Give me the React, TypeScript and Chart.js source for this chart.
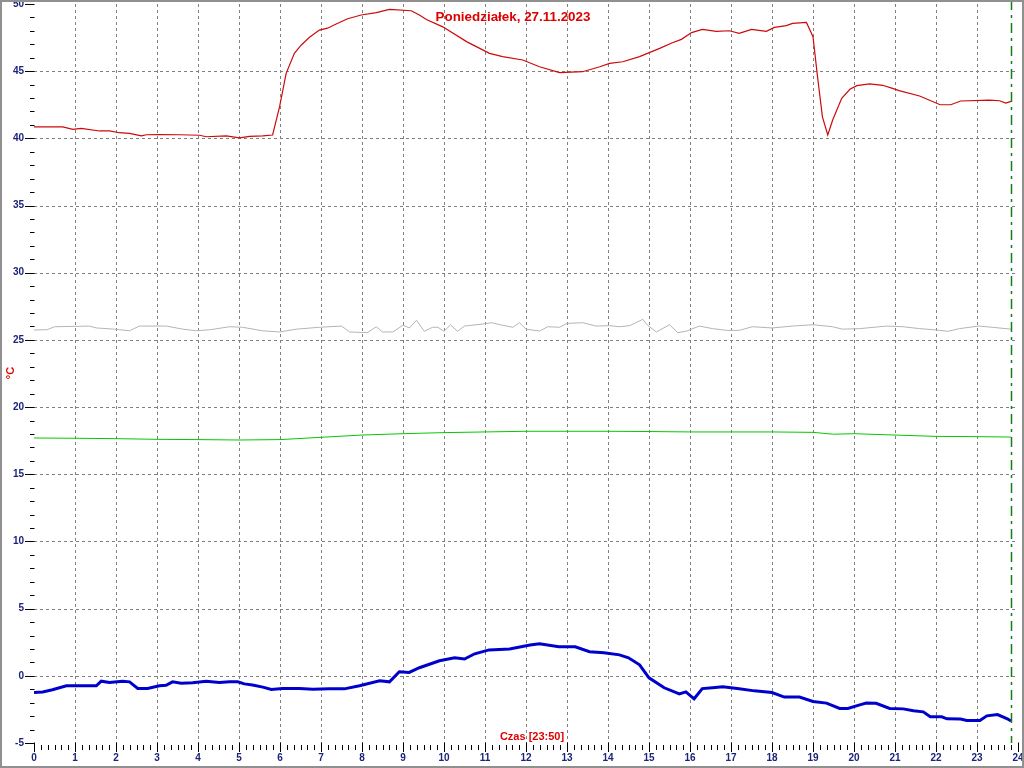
import React, { useEffect, useRef } from "react";
import { Chart, registerables } from "chart.js";

Chart.register(...registerables);

// ---- data (hours of day, °C) ----
const redHours = [0, 0.7, 0.95, 1.15, 1.6, 1.84, 2.08, 2.33, 2.62, 2.74, 3.06, 3.55, 4.04, 4.2, 4.69, 5.01, 5.26, 5.58, 5.82, 5.99, 6.15, 6.35, 6.52, 6.72, 6.96, 7.16, 7.37, 7.65, 7.98, 8.35, 8.67, 9.2, 9.4, 9.57, 9.97, 10.55, 11.11, 11.43, 11.92, 12.33, 12.82, 13.38, 13.8, 14.04, 14.36, 14.77, 15.26, 15.57, 15.79, 16.04, 16.3, 16.64, 16.96, 17.2, 17.5, 17.86, 18.06, 18.35, 18.5, 18.84, 19.0, 19.11, 19.23, 19.36, 19.48, 19.7, 19.9, 20.07, 20.38, 20.7, 20.94, 21.1, 21.6, 22.1, 22.36, 22.6, 23.3, 23.55, 23.7, 23.83];
const redTemps = [40.85, 40.85, 40.67, 40.75, 40.55, 40.55, 40.42, 40.37, 40.18, 40.27, 40.28, 40.27, 40.23, 40.12, 40.18, 40.03, 40.15, 40.18, 40.25, 42.36, 44.84, 46.33, 46.95, 47.52, 48.06, 48.2, 48.51, 48.9, 49.18, 49.36, 49.6, 49.5, 49.18, 48.85, 48.3, 47.2, 46.33, 46.08, 45.83, 45.33, 44.89, 44.96, 45.33, 45.58, 45.7, 46.08, 46.7, 47.12, 47.37, 47.87, 48.11, 47.96, 48.01, 47.82, 48.11, 47.96, 48.26, 48.39, 48.56, 48.63, 47.57, 44.59, 41.6, 40.25, 41.37, 42.98, 43.65, 43.92, 44.05, 43.95, 43.72, 43.55, 43.15, 42.5, 42.5, 42.78, 42.85, 42.8, 42.63, 42.75];

const grayHours = [0, 0.32, 0.5, 1.35, 1.52, 1.96, 2.33, 2.57, 3.23, 3.63, 3.96, 4.3, 4.77, 5.09, 5.57, 5.99, 6.4, 6.96, 7.5, 7.7, 8.13, 8.35, 8.5, 8.75, 9.0, 9.16, 9.33, 9.52, 9.72, 9.85, 10.0, 10.16, 10.33, 10.5, 10.94, 11.16, 11.43, 11.68, 11.84, 12.0, 12.33, 12.53, 12.82, 13.0, 13.38, 13.71, 14.04, 14.28, 14.53, 14.85, 14.96, 15.18, 15.5, 15.7, 15.9, 16.23, 16.55, 16.9, 17.2, 17.52, 18.0, 18.5, 19.0, 19.48, 19.72, 20.14, 20.8, 21.2, 21.6, 22.0, 22.3, 22.57, 23.05, 23.37, 23.83];
const grayTemps = [25.74, 25.76, 25.98, 26.03, 25.89, 25.8, 25.68, 26.03, 26.03, 25.8, 25.68, 25.76, 25.98, 25.94, 25.68, 25.59, 25.8, 25.94, 26.03, 25.59, 25.54, 25.98, 25.59, 25.59, 26.09, 25.89, 26.46, 25.64, 25.94, 25.94, 25.64, 26.12, 25.64, 26.03, 26.18, 26.28, 26.09, 25.94, 26.28, 25.8, 25.66, 25.98, 25.94, 26.23, 26.28, 26.03, 26.06, 25.98, 26.06, 26.53, 26.1, 25.59, 26.13, 25.54, 25.64, 26.03, 25.84, 25.71, 25.71, 25.98, 25.89, 26.03, 26.13, 25.98, 25.8, 25.84, 26.03, 25.98, 25.84, 25.74, 25.64, 25.84, 26.03, 25.94, 25.8];

const greenHours = [0, 1, 2, 3, 4, 5, 6, 7, 8, 9, 10, 11, 12, 13, 14, 15, 16, 17, 18, 19, 19.5, 20, 21, 22, 23, 23.83];
const greenTemps = [17.7, 17.68, 17.65, 17.6, 17.58, 17.55, 17.58, 17.75, 17.92, 18.02, 18.1, 18.15, 18.2, 18.2, 18.2, 18.18, 18.15, 18.15, 18.15, 18.12, 17.98, 18.02, 17.92, 17.82, 17.8, 17.77];

const blueHours = [0, 0.21, 0.45, 0.79, 1.52, 1.64, 1.84, 2.16, 2.33, 2.53, 2.77, 3.06, 3.22, 3.38, 3.59, 3.87, 4.2, 4.52, 4.77, 4.97, 5.13, 5.33, 5.58, 5.79, 6.06, 6.48, 6.8, 7.2, 7.57, 7.94, 8.43, 8.67, 8.91, 9.15, 9.4, 9.89, 10.26, 10.5, 10.75, 11.1, 11.6, 12.1, 12.33, 12.8, 13.2, 13.55, 13.9, 14.28, 14.5, 14.77, 15.0, 15.37, 15.74, 15.9, 16.1, 16.3, 16.55, 16.8, 17.2, 17.57, 18.0, 18.3, 18.67, 19.0, 19.33, 19.65, 19.85, 20.14, 20.3, 20.54, 20.87, 21.2, 21.45, 21.69, 21.86, 22.14, 22.27, 22.6, 22.75, 23.07, 23.24, 23.5, 23.74, 23.83];
const blueTemps = [-1.24, -1.2, -1.04, -0.74, -0.74, -0.4, -0.5, -0.4, -0.45, -0.94, -0.94, -0.74, -0.7, -0.45, -0.55, -0.52, -0.4, -0.5, -0.45, -0.45, -0.6, -0.68, -0.84, -1.02, -0.94, -0.94, -1.0, -0.97, -0.97, -0.74, -0.37, -0.45, 0.3, 0.25, 0.6, 1.12, 1.35, 1.25, 1.64, 1.93, 2.0, 2.3, 2.38, 2.16, 2.16, 1.79, 1.72, 1.56, 1.34, 0.82, -0.15, -0.89, -1.34, -1.19, -1.71, -0.95, -0.89, -0.82, -0.97, -1.12, -1.24, -1.58, -1.58, -1.91, -2.03, -2.43, -2.43, -2.16, -2.03, -2.05, -2.43, -2.46, -2.6, -2.68, -3.05, -3.05, -3.2, -3.22, -3.32, -3.32, -2.98, -2.88, -3.2, -3.37];

const yMin = -5;
const yMax = 50;
const yStep = 5;
const xMin = 0;
const xMax = 24;
const nowHour = 23 + 50 / 60;
const titleText = "Poniedziałek, 27.11.2023";
const xAxisText = "Czas [23:50]";
const yAxisText = "°C";

const FONT = '"Liberation Sans", Arial, sans-serif';
const TICK_COLOR = "#1b237a";
const LABEL_RED = "#e00000";

function toPoints(xs: number[], ys: number[]) {
  return xs.map((x, i) => ({ x, y: ys[i] }));
}

const decorPlugin = {
  id: "decor",
  beforeDatasetsDraw(chart: any) {
    const { ctx, chartArea } = chart;
    const xs = chart.scales.x;
    const ys = chart.scales.y;
    ctx.save();
    ctx.strokeStyle = "#808080";
    ctx.lineWidth = 1;
    ctx.setLineDash([3, 3]);
    for (let h = xMin + 1; h < xMax; h++) {
      const px = Math.round(xs.getPixelForValue(h)) + 0.5;
      ctx.beginPath();
      ctx.moveTo(px, chartArea.top);
      ctx.lineTo(px, chartArea.bottom);
      ctx.stroke();
    }
    for (let v = yMin + yStep; v < yMax; v += yStep) {
      const py = Math.round(ys.getPixelForValue(v)) + 0.5;
      ctx.beginPath();
      ctx.moveTo(chartArea.left, py);
      ctx.lineTo(chartArea.right, py);
      ctx.stroke();
    }
    ctx.restore();
  },
  afterDatasetsDraw(chart: any) {
    const { ctx, chartArea } = chart;
    const xs = chart.scales.x;
    const ys = chart.scales.y;
    ctx.save();
    ctx.strokeStyle = "#000";
    ctx.lineWidth = 1;
    ctx.setLineDash([]);
    const left = Math.round(chartArea.left);
    for (let v = yMin; v <= yMax; v++) {
      const py = Math.round(ys.getPixelForValue(v)) + 0.5;
      const major = (v - yMin) % yStep === 0;
      ctx.beginPath();
      ctx.moveTo(left - (major ? 9 : 4), py);
      ctx.lineTo(left + 0.5, py);
      ctx.stroke();
    }
    const bottom = Math.round(chartArea.bottom);
    for (let i = 0; i <= (xMax - xMin) * 6; i++) {
      const h = xMin + i / 6;
      const px = Math.round(xs.getPixelForValue(h)) + 0.5;
      const major = i % 6 === 0;
      ctx.beginPath();
      ctx.moveTo(px, major ? bottom - 0.5 : bottom + 2);
      ctx.lineTo(px, major ? bottom + 9 : bottom + 7);
      ctx.stroke();
    }
    const nx = Math.round(xs.getPixelForValue(nowHour)) + 0.5;
    ctx.strokeStyle = "#108010";
    ctx.lineWidth = 1.5;
    ctx.setLineDash([10, 5, 3, 5]);
    ctx.beginPath();
    ctx.moveTo(nx, 0);
    ctx.lineTo(nx, chartArea.bottom);
    ctx.stroke();
    ctx.setLineDash([]);
    ctx.fillStyle = LABEL_RED;
    ctx.textAlign = "center";
    ctx.textBaseline = "middle";
    ctx.font = `bold 13.4px ${FONT}`;
    ctx.fillText(titleText, 513, 17);
    ctx.font = `bold 11px ${FONT}`;
    ctx.fillText(xAxisText, 532, 737);
    ctx.save();
    ctx.translate(11, 373);
    ctx.rotate(-Math.PI / 2);
    ctx.fillText(yAxisText, 0, 0);
    ctx.restore();
    ctx.strokeStyle = "#909090";
    ctx.lineWidth = 2;
    ctx.strokeRect(1, 1, chart.width - 2, chart.height - 2);
    ctx.restore();
  },
};

export default function App() {
  const canvasRef = useRef<HTMLCanvasElement | null>(null);

  useEffect(() => {
    const canvas = canvasRef.current;
    if (!canvas) return;
    const chart = new Chart(canvas, {
      type: "line",
      data: {
        datasets: [
          { data: toPoints(grayHours, grayTemps), borderColor: "#b4b4b4", borderWidth: 1, pointRadius: 0, tension: 0 },
          { data: toPoints(greenHours, greenTemps), borderColor: "#00c800", borderWidth: 1, pointRadius: 0, tension: 0 },
          { data: toPoints(redHours, redTemps), borderColor: "#cc0a0a", borderWidth: 1.2, pointRadius: 0, tension: 0 },
          { data: toPoints(blueHours, blueTemps), borderColor: "#0000cc", borderWidth: 3, pointRadius: 0, tension: 0 },
        ],
      },
      options: {
        responsive: false,
        maintainAspectRatio: false,
        animation: false,
        events: [],
        layout: { padding: { top: 4, right: 6, left: 0, bottom: 0 } },
        plugins: {
          legend: { display: false },
          tooltip: { enabled: false },
          title: { display: false },
        },
        scales: {
          x: {
            type: "linear",
            min: xMin,
            max: xMax,
            grid: { display: false, drawTicks: false },
            border: { display: false },
            ticks: {
              stepSize: 1,
              autoSkip: false,
              maxRotation: 0,
              padding: 9,
              color: TICK_COLOR,
              font: { family: FONT, size: 10, weight: "bold" },
              callback: (v: any) => String(v),
            },
            afterFit: (scale: any) => {
              scale.height = 25;
              scale.paddingLeft = 0;
              scale.paddingRight = 0;
              scale.paddingTop = 0;
              scale.paddingBottom = 0;
            },
          },
          y: {
            type: "linear",
            min: yMin,
            max: yMax,
            grid: { display: false, drawTicks: false },
            border: { display: false },
            ticks: {
              stepSize: yStep,
              padding: 10,
              color: TICK_COLOR,
              font: { family: FONT, size: 10, weight: "bold" },
              callback: (v: any) => String(v),
            },
            afterFit: (scale: any) => {
              scale.width = 34;
              scale.paddingLeft = 0;
              scale.paddingRight = 0;
              scale.paddingTop = 0;
              scale.paddingBottom = 0;
            },
          },
        },
      },
      plugins: [decorPlugin],
    } as any);
    return () => chart.destroy();
  }, []);

  return (
    <div style={{ position: "absolute", left: 0, top: 0, width: 1024, height: 768, background: "#fff" }}>
      <canvas ref={canvasRef} width={1024} height={768} style={{ display: "block" }} />
    </div>
  );
}
